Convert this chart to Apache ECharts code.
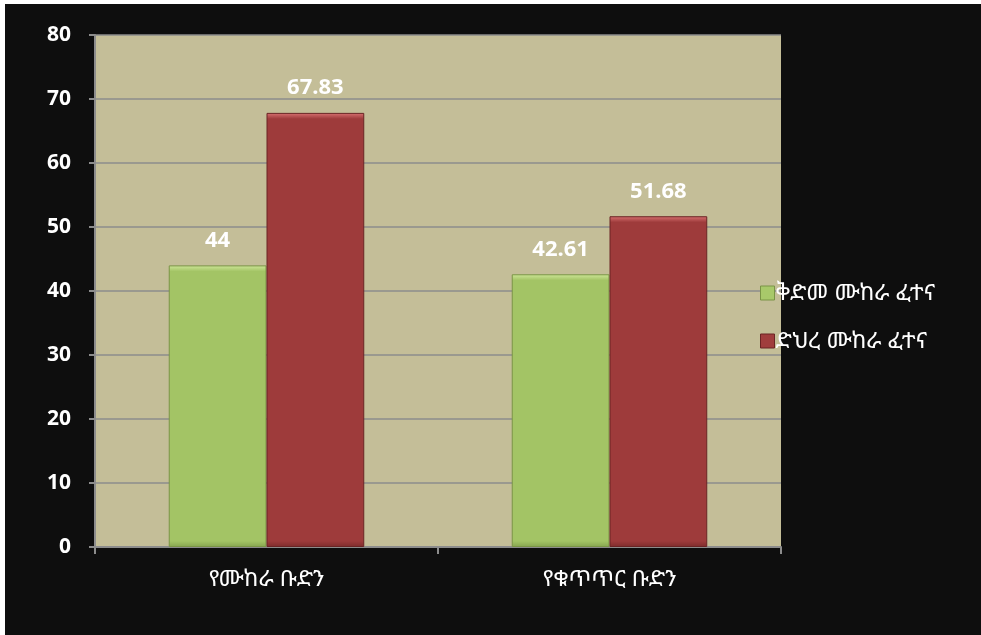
<!DOCTYPE html>
<html><head><meta charset="utf-8">
<script src="https://cdn.jsdelivr.net/npm/echarts@6/dist/echarts.min.js"></script>
<style>
html,body{margin:0;padding:0;background:#ffffff;width:981px;height:635px;overflow:hidden;}
#c{position:absolute;left:5px;top:4px;width:976px;height:631px;background:#0e0e0e;}
</style></head><body>
<div id="c"></div>
<script>
const categories = ['የሙከራ ቡድን', 'የቁጥጥር ቡድን'];
const seriesNames = ['ቅድመ ሙከራ ፈተና', 'ድህረ ሙከራ ፈተና'];
const preTest = [44, 42.61];
const postTest = [67.83, 51.68];
const yTicks = [0, 10, 20, 30, 40, 50, 60, 70, 80];

const ethFont = '"Noto Sans Ethiopic","Abyssinica SIL","DejaVu Sans",sans-serif';
const numFont = '"Open Sans","Liberation Sans",sans-serif';
const plotH = 512, yMax = 80;

function bevel(v, light, mid, dark){
  const h = v / yMax * plotH;
  const t = 6 / h, b = 6 / h;
  return new echarts.graphic.LinearGradient(0,0,0,1,[
    {offset:0,color:light},{offset:t,color:mid},{offset:1-b,color:mid},{offset:1,color:dark}
  ]);
}
function items(arr, light, mid, dark){
  return arr.map(v => ({value:v, itemStyle:{color:bevel(v, light, mid, dark)}}));
}

const chart = echarts.init(document.getElementById('c'));
chart.setOption({
  backgroundColor:'#0e0e0e',
  animation:false,
  grid:{left:90,top:31,width:686,height:plotH,backgroundColor:'#c4be98',show:true,borderWidth:0},
  legend:{
    orient:'vertical',left:750,top:271,
    itemWidth:14,itemHeight:14,itemGap:22,
    icon:'rect',
    textStyle:{color:'#ffffff',fontSize:23,lineHeight:26,fontFamily:ethFont,padding:[0,0,0,-4]},
    data:[{name:seriesNames[0],itemStyle:{color:'#a8c96a',borderColor:'#7a9446',borderWidth:1}},
          {name:seriesNames[1],itemStyle:{color:'#a03d3d',borderColor:'#6a2424',borderWidth:1}}]
  },
  xAxis:{
    type:'category',data:categories,
    axisLine:{lineStyle:{color:'#8c8c8c',width:2}},
    axisTick:{show:true,length:7,lineStyle:{color:'#8c8c8c',width:2}},
    axisLabel:{color:'#ffffff',fontSize:23,fontFamily:ethFont,margin:21}
  },
  yAxis:{
    type:'value',min:0,max:yMax,interval:10,
    axisLine:{show:true,lineStyle:{color:'#8c8c8c',width:2}},
    axisTick:{show:true,length:6,lineStyle:{color:'#8c8c8c',width:2}},
    splitLine:{lineStyle:{color:'#8c8c8c',width:1.5}},
    axisLabel:{color:'#ffffff',fontSize:21,fontWeight:'bold',fontFamily:numFont,margin:24,
      formatter:function(v){return yTicks.indexOf(v)>=0?String(v):'';}}
  },
  series:[
    {name:seriesNames[0],type:'bar',data:items(preTest,'#cfe79a','#a3c465','#86a54f'),barGap:'0%',barCategoryGap:'43%',
     itemStyle:{color:'#a3c465',borderColor:'#7a9446',borderWidth:1},
     label:{show:true,position:'top',distance:14,color:'#ffffff',fontSize:22,fontWeight:'bold',fontFamily:numFont}},
    {name:seriesNames[1],type:'bar',data:items(postTest,'#d97272','#9e3b3b','#7e2c2c'),
     itemStyle:{color:'#9e3b3b',borderColor:'#6a2424',borderWidth:1},
     label:{show:true,position:'top',distance:14,color:'#ffffff',fontSize:22,fontWeight:'bold',fontFamily:numFont}}
  ]
});
</script>
</body></html>
